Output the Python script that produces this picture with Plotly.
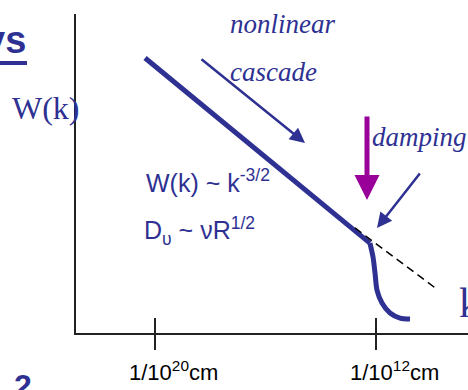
import plotly.graph_objects as go

# ---- data: log10(k) and log10(W) in arbitrary units ----
k_inertial = [-20.36, -16.0, -12.22]
w_inertial = [17.86, 11.42, 5.84]
k_damped = [-12.22, -12.109, -12.036, -11.964, -11.783, -11.493, -11.131, -10.769]
w_damped = [5.84, 4.94, 3.90, 2.79, 1.95, 1.30, 0.97, 0.91]
k_extrap = [-12.76, -9.756]
w_extrap = [6.82, 2.79]
tick_vals = [-20, -12]
tick_labels = ["1/10<sup>20</sup>cm", "1/10<sup>12</sup>cm"]
# arrows: (tail k, tail W, head k, head W)
arrow_cascade = [-18.371, 17.86, -14.57, 12.34]
arrow_damping = [-10.371, 10.45, -11.964, 6.82]
arrow_scale = [-12.326, 14.16, -12.326, 8.64]

BLUE = "#2E3192"
MAGENTA = "#990099"
AXC = "#222222"
SANS = "Liberation Sans, Arial, sans-serif"
SERIF = "Liberation Serif, Times New Roman, serif"

W, H = 468, 390
XR = [-22.860, -8.670]
YR = [0, 20.714]

fig = go.Figure()
fig.add_trace(go.Scatter(x=k_inertial, y=w_inertial, mode="lines",
                         line=dict(color=BLUE, width=5), hoverinfo="skip"))
fig.add_trace(go.Scatter(x=k_damped, y=w_damped, mode="lines",
                         line=dict(color=BLUE, width=5, shape="spline", smoothing=0.8),
                         hoverinfo="skip"))
fig.add_trace(go.Scatter(x=k_extrap, y=w_extrap, mode="lines", xaxis="x3", yaxis="y",
                         line=dict(color="black", width=1.5, dash="8px,5px"),
                         hoverinfo="skip"))
# clipped formula line (bottom cut off as in the slide)
fig.add_trace(go.Scatter(x=[144], y=[233], mode="text", xaxis="x2", yaxis="y2",
                         text=["D<sub>υ</sub> ~ νR<sup>1/2</sup>"],
                         textposition="middle right", cliponaxis=True,
                         textfont=dict(family=SANS, size=25, color=BLUE),
                         hoverinfo="skip"))

ann = []
def arrow(a, color, width, size, head):
    ann.append(dict(x=a[2], y=a[3], ax=a[0], ay=a[1], xref="x", yref="y",
                    axref="x", ayref="y", text="", showarrow=True,
                    arrowhead=head, arrowsize=size, arrowwidth=width,
                    arrowcolor=color))
arrow(arrow_cascade, BLUE, 2.5, 1.2, 2)
arrow(arrow_damping, BLUE, 2.5, 1.2, 2)
arrow(arrow_scale, MAGENTA, 5, 1.0, 2)

def txt(s, px, py, family, size, color=BLUE, xanchor="center", yanchor="middle", style="normal", weight="normal"):
    ann.append(dict(text=s, x=px / W, y=1 - py / H, xref="paper", yref="paper",
                    xanchor=xanchor, yanchor=yanchor, showarrow=False,
                    font=dict(family=family, size=size, color=color, style=style, weight=weight)))

txt("nonlinear", 228, 24, SERIF, 27, xanchor="left", style="italic")
txt("cascade", 228, 72, SERIF, 27, xanchor="left", style="italic")
txt("damping", 370, 137, SERIF, 27, xanchor="left", style="italic")
txt("W(k)", 46, 108, SERIF, 32)
txt("k", 457, 303, SERIF, 42, xanchor="left")
txt("W(k) ~ k<sup>-3/2</sup>", 144, 181, SANS, 25, xanchor="left")
txt("ys", 28, 40, SANS, 38, xanchor="right", weight="bold")
txt("2", 12, 366, SANS, 32, xanchor="left", yanchor="top", weight="bold")
for v, lab in zip(tick_vals, tick_labels):
    ann.append(dict(text=lab, x=v, y=1 - 371 / H, xref="x", yref="paper",
                    xshift=18, xanchor="center", yanchor="middle", showarrow=False,
                    font=dict(family=SANS, size=22, color="black")))

fig.update_layout(
    width=W, height=H, margin=dict(l=0, r=0, t=0, b=0),
    paper_bgcolor="white", plot_bgcolor="rgba(0,0,0,0)", showlegend=False,
    annotations=ann,
    shapes=[dict(type="rect", xref="paper", yref="paper", x0=0, x1=27 / W,
                 y0=1 - 65 / H, y1=1 - 61 / H, fillcolor=BLUE, line=dict(width=0))],
    xaxis=dict(domain=[76 / W, 1], range=XR, showline=True, linecolor=AXC, linewidth=1.5,
               tickvals=tick_vals, ticks="outside", ticklen=15, tickwidth=1.5,
               tickcolor=AXC, showticklabels=False, showgrid=False, zeroline=False),
    xaxis3=dict(overlaying="x", anchor="y", range=XR, tickvals=tick_vals, ticks="inside",
                ticklen=15, tickwidth=1.5, tickcolor=AXC, showticklabels=False,
                showgrid=False, zeroline=False, showline=False),
    yaxis=dict(domain=[1 - 333 / H, 1 - 14 / H], range=YR, showline=True, linecolor=AXC,
               linewidth=1.5, ticks="", showticklabels=False, showgrid=False, zeroline=False),
    xaxis2=dict(domain=[0, 1], anchor="y2", range=[0, W], visible=False),
    yaxis2=dict(domain=[1 - 246 / H, 1], anchor="x2", range=[246, 0], visible=False),
)

fig.write_html("out.html")
